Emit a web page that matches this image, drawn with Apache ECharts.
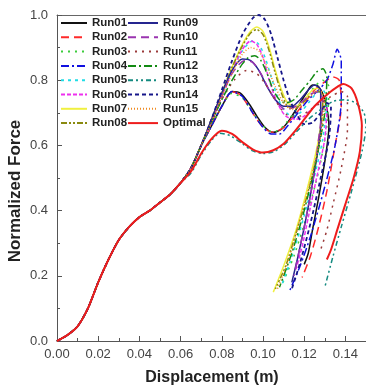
<!DOCTYPE html>
<html>
<head>
<meta charset="utf-8">
<script src="https://cdn.jsdelivr.net/npm/echarts@6/dist/echarts.min.js"></script>
<style>
  html, body { margin: 0; padding: 0; background: #fff; }
  #chart { width: 366px; height: 390px; }
</style>
</head>
<body>
<div id="chart"></div>
<script>
// shared loading part (all runs start on the same curve)
const rise = [[0,0],[0.005,0.018],[0.01,0.045],[0.015,0.1],[0.02,0.18],[0.025,0.25],[0.03,0.31],[0.035,0.35],[0.04,0.38],[0.045,0.4],[0.05,0.425],[0.055,0.45],[0.06,0.485]];

const run01 = [[0.065,0.53],[0.07,0.6],[0.075,0.66],[0.08,0.72],[0.085,0.765],[0.089,0.76],[0.093,0.73],[0.097,0.69],[0.101,0.655],[0.105,0.64],[0.109,0.65],[0.113,0.68],[0.117,0.72],[0.121,0.76],[0.124,0.785],[0.127,0.78],[0.13,0.74],[0.132,0.66],[0.13,0.55],[0.127,0.44],[0.124,0.34],[0.122,0.27],[0.12,0.235]];
const run02 = [[0.065,0.53],[0.07,0.6],[0.075,0.66],[0.08,0.72],[0.085,0.765],[0.089,0.755],[0.093,0.72],[0.097,0.68],[0.101,0.65],[0.105,0.64],[0.11,0.655],[0.115,0.69],[0.12,0.73],[0.125,0.77],[0.13,0.795],[0.134,0.81],[0.137,0.8],[0.138,0.72],[0.135,0.6],[0.131,0.46],[0.127,0.35],[0.123,0.26],[0.119,0.195]];
const run03 = [[0.065,0.53],[0.07,0.6],[0.075,0.66],[0.08,0.72],[0.085,0.76],[0.09,0.745],[0.095,0.7],[0.1,0.66],[0.105,0.64],[0.11,0.66],[0.115,0.7],[0.12,0.74],[0.125,0.78],[0.129,0.8],[0.132,0.78],[0.131,0.66],[0.127,0.52],[0.121,0.38],[0.115,0.26],[0.109,0.17]];
const run04 = [[0.065,0.53],[0.07,0.6],[0.075,0.66],[0.08,0.72],[0.085,0.765],[0.09,0.75],[0.095,0.7],[0.1,0.655],[0.104,0.635],[0.108,0.635],[0.112,0.66],[0.117,0.7],[0.122,0.74],[0.127,0.77],[0.131,0.8],[0.134,0.85],[0.136,0.895],[0.138,0.86],[0.138,0.74],[0.135,0.6],[0.129,0.45],[0.123,0.32],[0.118,0.23],[0.113,0.155]];
const run05 = [[0.065,0.53],[0.07,0.6],[0.075,0.67],[0.08,0.75],[0.085,0.83],[0.09,0.89],[0.095,0.92],[0.098,0.91],[0.101,0.87],[0.104,0.81],[0.107,0.75],[0.11,0.71],[0.114,0.69],[0.118,0.7],[0.122,0.73],[0.126,0.76],[0.129,0.77],[0.131,0.74],[0.129,0.62],[0.124,0.48],[0.118,0.34],[0.113,0.24],[0.109,0.17]];
const run06 = [[0.065,0.53],[0.07,0.6],[0.075,0.67],[0.08,0.75],[0.085,0.83],[0.09,0.895],[0.094,0.92],[0.097,0.91],[0.1,0.87],[0.103,0.8],[0.107,0.73],[0.111,0.69],[0.116,0.68],[0.12,0.69],[0.125,0.72],[0.129,0.74],[0.131,0.72],[0.13,0.62],[0.126,0.5],[0.122,0.38],[0.119,0.29],[0.116,0.22]];
const run07 = [[0.065,0.53],[0.07,0.6],[0.075,0.68],[0.08,0.76],[0.085,0.84],[0.09,0.91],[0.094,0.95],[0.097,0.963],[0.1,0.95],[0.103,0.9],[0.106,0.83],[0.109,0.77],[0.112,0.73],[0.116,0.72],[0.12,0.74],[0.124,0.77],[0.127,0.775],[0.129,0.74],[0.127,0.62],[0.122,0.48],[0.116,0.34],[0.11,0.23],[0.105,0.15]];
const run08 = [[0.065,0.53],[0.07,0.6],[0.075,0.68],[0.08,0.76],[0.085,0.84],[0.09,0.905],[0.094,0.945],[0.097,0.955],[0.1,0.94],[0.103,0.89],[0.106,0.82],[0.109,0.76],[0.112,0.72],[0.116,0.715],[0.12,0.735],[0.124,0.76],[0.127,0.765],[0.129,0.73],[0.127,0.6],[0.122,0.46],[0.116,0.33],[0.111,0.23],[0.106,0.16]];
const run09 = [[0.065,0.53],[0.07,0.6],[0.075,0.68],[0.08,0.76],[0.085,0.83],[0.09,0.865],[0.094,0.86],[0.098,0.83],[0.102,0.78],[0.106,0.74],[0.11,0.72],[0.114,0.72],[0.118,0.74],[0.122,0.77],[0.125,0.785],[0.128,0.77],[0.128,0.66],[0.125,0.52],[0.121,0.38],[0.117,0.26],[0.114,0.18]];
const run10 = [[0.065,0.53],[0.07,0.6],[0.075,0.675],[0.08,0.75],[0.085,0.82],[0.091,0.86],[0.095,0.855],[0.099,0.82],[0.103,0.77],[0.107,0.73],[0.111,0.71],[0.116,0.72],[0.12,0.74],[0.124,0.76],[0.127,0.765],[0.129,0.74],[0.127,0.62],[0.124,0.48],[0.12,0.35],[0.117,0.26],[0.115,0.2]];
const run11 = [[0.065,0.53],[0.07,0.6],[0.075,0.67],[0.08,0.74],[0.086,0.8],[0.092,0.83],[0.097,0.82],[0.101,0.79],[0.105,0.75],[0.109,0.71],[0.113,0.69],[0.118,0.69],[0.123,0.71],[0.128,0.73],[0.133,0.75],[0.138,0.765],[0.141,0.75],[0.141,0.65],[0.138,0.53],[0.134,0.42],[0.131,0.34],[0.128,0.28]];
const run12 = [[0.065,0.53],[0.07,0.6],[0.075,0.67],[0.08,0.74],[0.085,0.8],[0.09,0.85],[0.093,0.87],[0.096,0.875],[0.099,0.86],[0.102,0.82],[0.105,0.77],[0.108,0.74],[0.111,0.73],[0.115,0.74],[0.119,0.77],[0.123,0.8],[0.126,0.825],[0.129,0.835],[0.131,0.81],[0.13,0.7],[0.126,0.56],[0.12,0.4],[0.114,0.27],[0.108,0.165]];
const run13 = [[0.065,0.515],[0.07,0.57],[0.075,0.615],[0.079,0.637],[0.084,0.63],[0.09,0.605],[0.095,0.583],[0.1,0.575],[0.105,0.58],[0.11,0.6],[0.116,0.64],[0.122,0.68],[0.128,0.71],[0.134,0.735],[0.14,0.74],[0.145,0.73],[0.149,0.7],[0.15,0.66],[0.148,0.58],[0.143,0.46],[0.138,0.35],[0.134,0.26],[0.13,0.165]];
const run14 = [[0.065,0.53],[0.07,0.6],[0.075,0.68],[0.08,0.77],[0.085,0.86],[0.09,0.94],[0.095,0.99],[0.098,1.0],[0.101,0.985],[0.104,0.94],[0.107,0.87],[0.11,0.8],[0.113,0.74],[0.116,0.7],[0.12,0.665],[0.124,0.67],[0.128,0.7],[0.131,0.73],[0.133,0.72],[0.132,0.62],[0.128,0.5],[0.123,0.36],[0.118,0.24],[0.114,0.16]];
const run15 = [[0.065,0.53],[0.07,0.6],[0.075,0.67],[0.08,0.75],[0.085,0.82],[0.09,0.88],[0.094,0.9],[0.098,0.89],[0.102,0.84],[0.106,0.78],[0.11,0.73],[0.114,0.71],[0.118,0.72],[0.123,0.75],[0.127,0.77],[0.13,0.75],[0.128,0.63],[0.123,0.49],[0.117,0.35],[0.112,0.24],[0.107,0.16]];
const optimal = [[0.065,0.52],[0.07,0.575],[0.075,0.62],[0.08,0.645],[0.085,0.635],[0.09,0.61],[0.095,0.588],[0.1,0.578],[0.105,0.585],[0.11,0.605],[0.115,0.64],[0.12,0.68],[0.125,0.72],[0.13,0.75],[0.135,0.775],[0.139,0.788],[0.143,0.775],[0.146,0.73],[0.148,0.66],[0.147,0.58],[0.144,0.5],[0.14,0.42],[0.136,0.34],[0.133,0.28],[0.131,0.25]];

const names1 = ["Run01", "Run02", "Run03", "Run04", "Run05", "Run06", "Run07", "Run08"];
const names2 = ["Run09", "Run10", "Run11", "Run12", "Run13", "Run14", "Run15", "Optimal"];

// name, data, colour, dash pattern, width
const runs = [
  ["Run01", run01, "#111111", "solid", 1.5],
  ["Run02", run02, "#ff2a2a", [8, 5], 1.5],
  ["Run03", run03, "#3ccc3c", [2, 5], 1.5],
  ["Run04", run04, "#1010e0", [8, 3, 2, 3], 1.5],
  ["Run05", run05, "#20dde6", [3, 4], 1.5],
  ["Run06", run06, "#ee30ee", [4, 2], 1.5],
  ["Run07", run07, "#f0f040", "solid", 1.5],
  ["Run08", run08, "#8a8a10", [6, 2, 2, 2, 2, 2], 1.5],
  ["Run09", run09, "#25258f", "solid", 1.5],
  ["Run10", run10, "#9a34b0", [8, 5], 1.5],
  ["Run11", run11, "#9b3a3a", [2, 5], 1.5],
  ["Run12", run12, "#128a12", [8, 3, 2, 3], 1.5],
  ["Run13", run13, "#148a80", [5, 3, 2, 3, 2, 3], 1.5],
  ["Run14", run14, "#16168a", [4, 3], 1.8],
  ["Run15", run15, "#f08a20", [1, 2], 1.5],
  ["Optimal", optimal, "#ee1c1c", "solid", 2],
];

const font = "Arial, 'Liberation Sans', sans-serif";

const legendBase = {
  orient: "vertical",
  top: 17,
  padding: 0,
  itemHeight: 12,
  itemGap: 2.3,
  itemStyle: { opacity: 0 },
  textStyle: { fontFamily: font, fontSize: 11.5, fontWeight: "bold", color: "#222", lineHeight: 12 },
};

const chart = echarts.init(document.getElementById("chart"));
chart.setOption({
  animation: false,
  grid: { left: 57, top: 15, right: 0, bottom: 49 },
  legend: [
    Object.assign({}, legendBase, { left: 60, itemWidth: 26, data: names1 }),
    Object.assign({}, legendBase, { left: 127, itemWidth: 30, data: names2 }),
  ],
  graphic: [
    {
      type: "text", x: 15, y: 191, rotation: Math.PI / 2,
      style: { text: "Normalized Force", font: "bold 17px " + font, fill: "#222", align: "center", verticalAlign: "middle" },
    },
    {
      type: "text", x: 212, y: 378,
      style: { text: "Displacement (m)", font: "bold 16px " + font, fill: "#222", align: "center", verticalAlign: "middle" },
    },
  ],
  xAxis: [
    {
      type: "value", min: 0, max: 0.15, interval: 0.02,
      axisLine: { lineStyle: { color: "#555", width: 1 } },
      axisTick: { inside: true, length: 5, lineStyle: { color: "#555" } },
      minorTick: { show: true, splitNumber: 2, length: 3, lineStyle: { color: "#555" } },
      splitLine: { show: false },
      axisLabel: {
        showMaxLabel: false, margin: 7, color: "#444", fontSize: 13, fontFamily: font,
        formatter: (v) => v.toFixed(2),
      },
    },
    {
      type: "value", min: 0, max: 0.15, position: "top",
      axisLine: { show: true, lineStyle: { color: "#666", width: 1 } },
      axisTick: { show: false }, axisLabel: { show: false }, splitLine: { show: false },
    },
  ],
  yAxis: {
    type: "value", min: 0, max: 1, interval: 0.2,
    axisLine: { show: true, lineStyle: { color: "#555", width: 1 } },
    axisTick: { show: true, inside: true, length: 5, lineStyle: { color: "#555" } },
    minorTick: { show: true, splitNumber: 2, length: 3, lineStyle: { color: "#555" } },
    splitLine: { show: false },
    axisLabel: { margin: 9, color: "#444", fontSize: 13, fontFamily: font, formatter: (v) => v.toFixed(1) },
  },
  series: runs.map(([name, data, color, type, width]) => ({
    name: name,
    type: "line",
    xAxisIndex: 0,
    data: rise.concat(data),
    smooth: 0.25,
    symbol: "none",
    color: color,
    lineStyle: { color: color, type: type, width: width },
    z: name === "Optimal" ? 3 : 2,
  })),
});
</script>
</body>
</html>
